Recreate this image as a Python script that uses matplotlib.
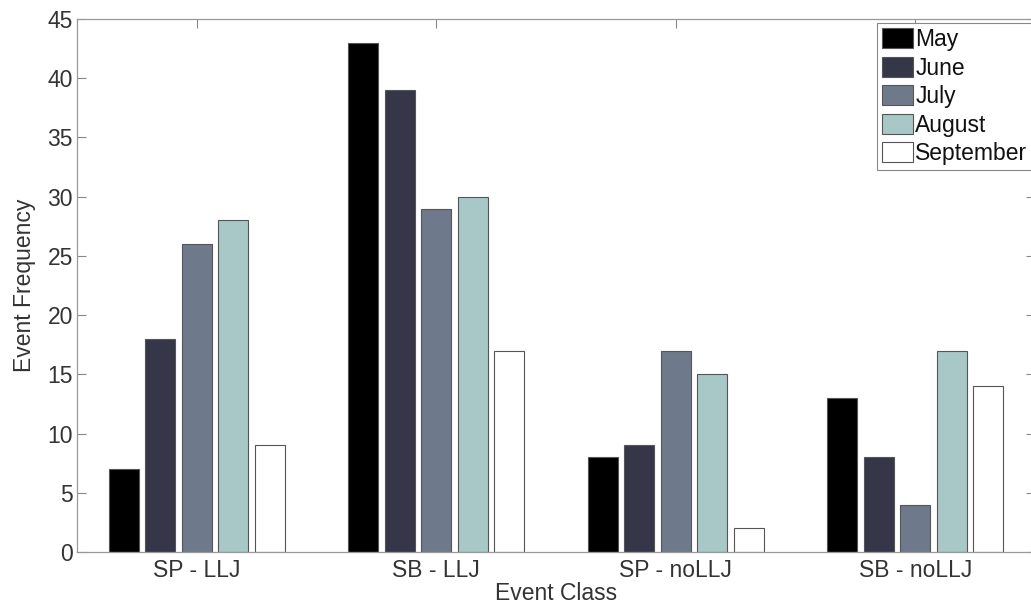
import matplotlib.pyplot as plt
import numpy as np

plt.rcParams['font.family'] = ['Liberation Sans', 'DejaVu Sans']

# event classes and monthly counts
classes = ['SP - LLJ', 'SB - LLJ', 'SP - noLLJ', 'SB - noLLJ']
months = ['May', 'June', 'July', 'August', 'September']
may = [7, 43, 8, 13]
june = [18, 39, 9, 8]
july = [26, 29, 17, 4]
august = [28, 30, 15, 17]
september = [9, 17, 2, 14]
series = [may, june, july, august, september]
colors = ['#000000', '#363649', '#6e7a8c', '#a8c8c8', '#ffffff']

fs = 16.5

fig = plt.figure(figsize=(10.31, 6.05), dpi=100)
ax = fig.add_axes([77/1031, 53/605, 958/1031, 533/605])

x = np.arange(1, len(classes) + 1)
pitch = 0.152
width = 0.125
for i, (vals, c) in enumerate(zip(series, colors)):
    ax.bar(x + (i - 2) * pitch, vals, width, color=c, edgecolor='#555555',
           linewidth=0.8, label=months[i], zorder=2)

ax.set_xlim(0.5, 4.5)
ax.set_ylim(0, 45)
ax.set_yticks(range(0, 46, 5))
ax.set_xticks(x)
ax.set_xticklabels(classes)
ax.tick_params(direction='in', length=6.5, width=0.8, color='#888888',
               labelsize=fs, labelcolor='#333333', top=True, right=True)
ax.tick_params(axis='x', pad=5)
ax.tick_params(axis='y', pad=3)
for s in ax.spines.values():
    s.set_color('#999999')
    s.set_linewidth(0.9)

ax.set_xlabel('Event Class', fontsize=fs, color='#333333', labelpad=0)
ax.set_ylabel('Event Frequency', fontsize=fs, color='#333333', labelpad=8)

leg = ax.legend(loc='upper left', bbox_to_anchor=(877/1031, 1 - 23/605),
                bbox_transform=fig.transFigure, fontsize=fs, fancybox=False,
                edgecolor='#888888', framealpha=1, handlelength=1.35,
                handleheight=0.95, handletextpad=0.1, labelspacing=0.24,
                borderpad=0.22, borderaxespad=0)
leg.get_frame().set_linewidth(0.8)
for t in leg.get_texts():
    t.set_color('#111111')

fig.savefig('out.png', dpi=100)
